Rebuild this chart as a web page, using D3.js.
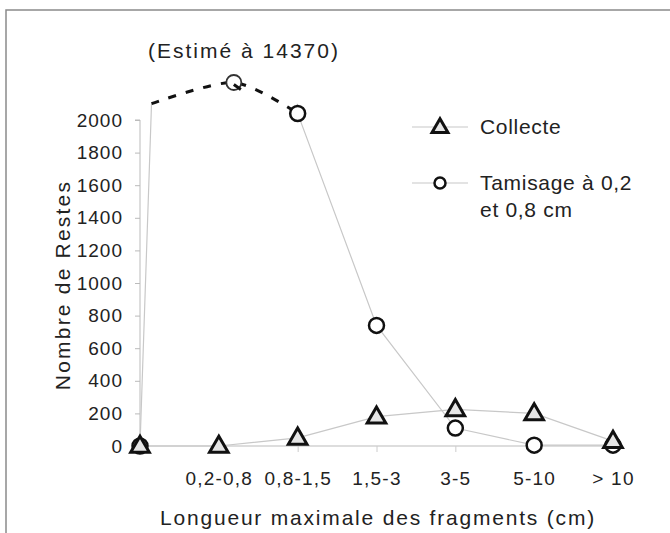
<!DOCTYPE html>
<html>
<head>
<meta charset="utf-8">
<script src="https://d3js.org/d3.v7.min.js"></script>
<style>
body { margin: 0; background: #fff; }
svg { display: block; }
text { font-family: "Liberation Sans", Arial, sans-serif; fill: #222; }
</style>
</head>
<body>
<div id="root"></div>
<script>
let categories = ['', '0,2-0,8', '0,8-1,5', '1,5-3', '3-5', '5-10', '> 10'];
let collecte = [0, 0, 50, 180, 225, 200, 30];
let tamisage = [0, 14370, 2040, 740, 110, 5, 5];
let y_ticks = [0, 200, 400, 600, 800, 1000, 1200, 1400, 1600, 1800, 2000];
let estimate_label = '(Estimé à 14370)';

let width = 670, height = 533;
let x0 = 140, x1 = 613, y_bottom = 446, y_top = 120;
let y_cap = 2100;      // where the off-scale value is cut
let y_break = 2230;    // height of the hand drawn break marker

let svg = d3.select('#root').append('svg')
    .attr('width', width)
    .attr('height', height);

// frame
svg.append('path')
    .attr('d', `M6,533 L6,10 L670,10`)
    .attr('fill', 'none')
    .attr('stroke', '#8a8a8a')
    .attr('stroke-width', 1.5);

let x = d3.scalePoint().domain(categories).range([x0, x1]);
let y = d3.scaleLinear().domain([0, 2000]).range([y_bottom, y_top]);

// y axis
let ay = svg.append('g')
    .attr('transform', `translate(${x0},0)`)
    .call(d3.axisLeft(y).tickValues(y_ticks).tickFormat(d3.format('d')).tickSize(5).tickPadding(12));
ay.select('.domain').attr('stroke', '#bbb').attr('d', `M-5,${y(2000)}H0V${y(0)}`);
ay.selectAll('.tick line').attr('stroke', '#bbb');
ay.selectAll('.tick text')
    .attr('font-size', 19)
    .attr('letter-spacing', 1)
    .attr('fill', '#222')
    .attr('font-family', '"Liberation Sans", Arial, sans-serif');

// x axis
let ax = svg.append('g')
    .attr('transform', `translate(0,${y_bottom})`)
    .call(d3.axisBottom(x).tickSize(6).tickPadding(20));
ax.select('.domain').attr('stroke', '#bbb').attr('d', `M${x0},0H${x1}`);
ax.selectAll('.tick line').attr('stroke', '#ccc');
ax.selectAll('.tick text')
    .attr('font-size', 19)
    .attr('letter-spacing', 1.2)
    .attr('fill', '#222')
    .attr('font-family', '"Liberation Sans", Arial, sans-serif');

// axis titles
svg.append('text')
    .attr('x', 378).attr('y', 525)
    .attr('text-anchor', 'middle')
    .attr('font-size', 21)
    .attr('letter-spacing', 1.8)
    .text('Longueur maximale des fragments (cm)');

svg.append('text')
    .attr('transform', `translate(70,285) rotate(-90)`)
    .attr('text-anchor', 'middle')
    .attr('font-size', 21)
    .attr('letter-spacing', 2.2)
    .text('Nombre de Restes');

// lines
svg.append('defs').append('clipPath').attr('id', 'clip-top')
    .append('rect')
    .attr('x', 0).attr('y', y(y_cap))
    .attr('width', width).attr('height', height);

let line = d3.line().x((d, i) => x(categories[i])).y(d => y(d));

svg.append('path')
    .datum(collecte)
    .attr('d', line)
    .attr('fill', 'none')
    .attr('stroke', '#c8c8c8')
    .attr('stroke-width', 1.2);

svg.append('path')
    .datum(tamisage)
    .attr('d', line)
    .attr('clip-path', 'url(#clip-top)')
    .attr('fill', 'none')
    .attr('stroke', '#c8c8c8')
    .attr('stroke-width', 1.2);

// hand drawn break for the estimated value
let cut_x = x(categories[0]) + (x(categories[1]) - x(categories[0])) *
    (y(tamisage[0]) - y(y_cap)) / (y(tamisage[0]) - y(tamisage[1]));
let break_x = x(categories[1]) + 15;
svg.append('path')
    .datum([[cut_x, y(y_cap)], [break_x, y(y_break)], [x(categories[2]), y(tamisage[2])]])
    .attr('d', d3.line().curve(d3.curveCardinal.tension(0.2)))
    .attr('fill', 'none')
    .attr('stroke', '#111')
    .attr('stroke-width', 3)
    .attr('stroke-dasharray', '8,10');
svg.append('circle')
    .attr('cx', break_x).attr('cy', y(y_break))
    .attr('r', 7.5)
    .attr('fill', '#fff')
    .attr('stroke', '#333')
    .attr('stroke-width', 1.8);
svg.append('line')
    .attr('x1', break_x).attr('y1', y(y_break) + 2)
    .attr('x2', break_x + 7).attr('y2', y(y_break) + 7)
    .attr('stroke', '#111').attr('stroke-width', 3);

svg.append('text')
    .attr('x', 148).attr('y', 58)
    .attr('font-size', 21)
    .attr('letter-spacing', 2)
    .text(estimate_label);

// markers
let tri = d3.symbol().type(d3.symbolTriangle).size(150);

svg.append('g').selectAll('circle')
    .data(tamisage.map((v, i) => ({ v, c: categories[i] })).filter(d => d.v <= y_cap))
    .join('circle')
    .attr('cx', d => x(d.c))
    .attr('cy', d => y(d.v))
    .attr('r', 7.5)
    .attr('fill', '#fff')
    .attr('stroke', '#111')
    .attr('stroke-width', 2.5);

svg.append('g').selectAll('path')
    .data(collecte)
    .join('path')
    .attr('d', tri)
    .attr('transform', (d, i) => `translate(${x(categories[i])},${y(d) + 1})`)
    .attr('fill', '#e6e6e6')
    .attr('stroke', '#111')
    .attr('stroke-width', 3)
    .attr('stroke-linejoin', 'miter');

// legend
let legend = [
    { label: ['Collecte'], y: 127, mark: 'tri' },
    { label: ['Tamisage à 0,2', 'et 0,8 cm'], y: 183, mark: 'circle' }
];
let lg = svg.append('g').selectAll('g')
    .data(legend)
    .join('g')
    .attr('transform', d => `translate(0,${d.y})`);
lg.append('line')
    .attr('x1', 412).attr('x2', 468)
    .attr('stroke', '#c8c8c8').attr('stroke-width', 1.2);
lg.filter(d => d.mark === 'tri').append('path')
    .attr('d', d3.symbol().type(d3.symbolTriangle).size(110))
    .attr('transform', 'translate(440,1)')
    .attr('fill', '#e6e6e6')
    .attr('stroke', '#111')
    .attr('stroke-width', 3);
lg.filter(d => d.mark === 'circle').append('circle')
    .attr('cx', 440).attr('r', 5.5)
    .attr('fill', '#fff')
    .attr('stroke', '#111')
    .attr('stroke-width', 2.5);
lg.selectAll('text')
    .data(d => d.label)
    .join('text')
    .attr('x', 480)
    .attr('y', (d, i) => 7 + i * 27)
    .attr('font-size', 21)
    .attr('letter-spacing', 0.7)
    .text(d => d);
</script>
</body>
</html>
